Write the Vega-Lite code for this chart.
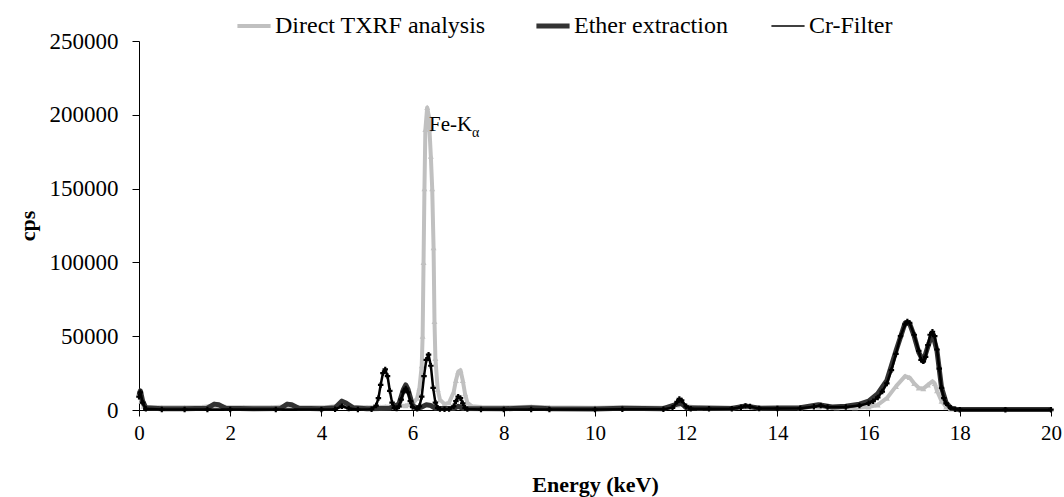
{
  "$schema": "https://vega.github.io/schema/vega-lite/v6.json",
  "autosize": {"type": "none"},
  "width": 912,
  "height": 369,
  "padding": {"left": 139, "top": 41, "right": 13, "bottom": 87},
  "background": "white",
  "config": {
    "view": {"stroke": null},
    "font": "Times New Roman, Liberation Serif, serif",
    "text": {"font": "Times New Roman, Liberation Serif, serif"},
    "legend": {"labelFont": "Times New Roman, Liberation Serif, serif", "titleFont": "Times New Roman, Liberation Serif, serif"},
    "axis": {"grid": false, "domainColor": "black", "tickColor": "black", "labelColor": "black", "titleColor": "black", "labelFont": "Times New Roman, Liberation Serif, serif", "titleFont": "Times New Roman, Liberation Serif, serif", "labelFontSize": 23, "titleFontSize": 22, "titleFontWeight": "bold", "domainWidth": 1, "tickWidth": 1}
  },
  "datasets": {
    "direct": [
      {"E": 0.0, "cps": 10000}, {"E": 0.05, "cps": 6000}, {"E": 0.1, "cps": 2500}, {"E": 0.2, "cps": 1800},
      {"E": 0.5, "cps": 1800}, {"E": 1.0, "cps": 1800}, {"E": 1.4, "cps": 2000}, {"E": 1.65, "cps": 3000},
      {"E": 1.75, "cps": 2800}, {"E": 1.9, "cps": 2000}, {"E": 2.3, "cps": 1800}, {"E": 2.9, "cps": 1800},
      {"E": 3.3, "cps": 2500}, {"E": 3.5, "cps": 1900}, {"E": 4.1, "cps": 1800}, {"E": 4.45, "cps": 3000},
      {"E": 4.7, "cps": 2000}, {"E": 5.0, "cps": 1800}, {"E": 5.3, "cps": 2000}, {"E": 5.4, "cps": 2200},
      {"E": 5.6, "cps": 2200}, {"E": 5.85, "cps": 3000}, {"E": 6.0, "cps": 4000}, {"E": 6.1, "cps": 8000},
      {"E": 6.15, "cps": 15000}, {"E": 6.2, "cps": 30000}, {"E": 6.22, "cps": 50000}, {"E": 6.24, "cps": 100000},
      {"E": 6.26, "cps": 150000}, {"E": 6.28, "cps": 190000}, {"E": 6.32, "cps": 205000}, {"E": 6.35, "cps": 200000},
      {"E": 6.37, "cps": 190000}, {"E": 6.4, "cps": 172000}, {"E": 6.43, "cps": 150000}, {"E": 6.46, "cps": 110000},
      {"E": 6.48, "cps": 60000}, {"E": 6.5, "cps": 35000}, {"E": 6.55, "cps": 14000}, {"E": 6.6, "cps": 7000},
      {"E": 6.7, "cps": 4000}, {"E": 6.8, "cps": 5000}, {"E": 6.9, "cps": 12000}, {"E": 6.95, "cps": 20000},
      {"E": 7.0, "cps": 26000}, {"E": 7.05, "cps": 27000}, {"E": 7.1, "cps": 20000}, {"E": 7.15, "cps": 11000},
      {"E": 7.2, "cps": 5000}, {"E": 7.3, "cps": 2500}, {"E": 7.5, "cps": 2000}, {"E": 8.0, "cps": 1800},
      {"E": 8.6, "cps": 2200}, {"E": 9.0, "cps": 1800}, {"E": 10.0, "cps": 1500}, {"E": 10.6, "cps": 1800},
      {"E": 11.5, "cps": 1500}, {"E": 11.8, "cps": 3500}, {"E": 11.9, "cps": 4000}, {"E": 12.0, "cps": 2500},
      {"E": 12.3, "cps": 1500}, {"E": 13.0, "cps": 1500}, {"E": 13.3, "cps": 2000}, {"E": 13.6, "cps": 1500},
      {"E": 14.5, "cps": 1500}, {"E": 14.9, "cps": 2000}, {"E": 15.3, "cps": 1500}, {"E": 15.7, "cps": 1500},
      {"E": 16.0, "cps": 2000}, {"E": 16.2, "cps": 3500}, {"E": 16.4, "cps": 8000}, {"E": 16.6, "cps": 16000},
      {"E": 16.8, "cps": 23000}, {"E": 16.9, "cps": 22000}, {"E": 17.0, "cps": 18000}, {"E": 17.1, "cps": 15000},
      {"E": 17.2, "cps": 14500}, {"E": 17.3, "cps": 17000}, {"E": 17.4, "cps": 19500}, {"E": 17.45, "cps": 18000},
      {"E": 17.5, "cps": 13000}, {"E": 17.6, "cps": 6000}, {"E": 17.7, "cps": 2000}, {"E": 17.8, "cps": 800},
      {"E": 18.0, "cps": 500}, {"E": 19.0, "cps": 400}, {"E": 20.0, "cps": 400}
    ],
    "ether": [
      {"E": 0.0, "cps": 10000}, {"E": 0.03, "cps": 13000}, {"E": 0.08, "cps": 6000}, {"E": 0.15, "cps": 1500},
      {"E": 0.5, "cps": 800}, {"E": 1.0, "cps": 900}, {"E": 1.5, "cps": 1200}, {"E": 1.65, "cps": 4000},
      {"E": 1.75, "cps": 3500}, {"E": 1.9, "cps": 1200}, {"E": 2.5, "cps": 800}, {"E": 3.1, "cps": 1000},
      {"E": 3.25, "cps": 4000}, {"E": 3.35, "cps": 3500}, {"E": 3.5, "cps": 1200}, {"E": 4.0, "cps": 900},
      {"E": 4.3, "cps": 1500}, {"E": 4.45, "cps": 6000}, {"E": 4.55, "cps": 4500}, {"E": 4.7, "cps": 1500},
      {"E": 5.0, "cps": 900}, {"E": 5.3, "cps": 1000}, {"E": 5.5, "cps": 1200}, {"E": 5.7, "cps": 4000},
      {"E": 5.8, "cps": 14000}, {"E": 5.85, "cps": 17000}, {"E": 5.9, "cps": 14000}, {"E": 6.0, "cps": 3000},
      {"E": 6.1, "cps": 1200}, {"E": 6.2, "cps": 2000}, {"E": 6.3, "cps": 3500}, {"E": 6.4, "cps": 3000},
      {"E": 6.5, "cps": 1200}, {"E": 6.9, "cps": 1000}, {"E": 7.0, "cps": 2500}, {"E": 7.1, "cps": 1000},
      {"E": 8.0, "cps": 800}, {"E": 8.6, "cps": 1500}, {"E": 9.0, "cps": 800}, {"E": 10.0, "cps": 700},
      {"E": 10.6, "cps": 1200}, {"E": 11.5, "cps": 900}, {"E": 11.8, "cps": 4000}, {"E": 11.9, "cps": 4500},
      {"E": 12.0, "cps": 1500}, {"E": 13.0, "cps": 1000}, {"E": 13.3, "cps": 2800}, {"E": 13.6, "cps": 1200},
      {"E": 14.5, "cps": 1500}, {"E": 14.9, "cps": 3500}, {"E": 15.2, "cps": 2000}, {"E": 15.5, "cps": 2500},
      {"E": 15.8, "cps": 4000}, {"E": 16.0, "cps": 6000}, {"E": 16.2, "cps": 11000}, {"E": 16.4, "cps": 20000},
      {"E": 16.6, "cps": 40000}, {"E": 16.8, "cps": 59000}, {"E": 16.9, "cps": 58500}, {"E": 17.0, "cps": 50000},
      {"E": 17.1, "cps": 39000}, {"E": 17.2, "cps": 33000}, {"E": 17.3, "cps": 43000}, {"E": 17.4, "cps": 52000},
      {"E": 17.5, "cps": 40000}, {"E": 17.6, "cps": 15000}, {"E": 17.7, "cps": 5000}, {"E": 17.8, "cps": 1500},
      {"E": 17.9, "cps": 600}, {"E": 18.0, "cps": 300}, {"E": 19.0, "cps": 300}, {"E": 20.0, "cps": 300}
    ],
    "crfilter": [
      {"E": 0.0, "cps": 9000}, {"E": 0.03, "cps": 12000}, {"E": 0.08, "cps": 5000}, {"E": 0.15, "cps": 800},
      {"E": 0.5, "cps": 300}, {"E": 1.0, "cps": 300}, {"E": 1.5, "cps": 300}, {"E": 2.0, "cps": 300},
      {"E": 3.0, "cps": 300}, {"E": 4.0, "cps": 300}, {"E": 4.3, "cps": 500}, {"E": 4.45, "cps": 2500},
      {"E": 4.6, "cps": 1000}, {"E": 4.8, "cps": 300}, {"E": 5.1, "cps": 500}, {"E": 5.2, "cps": 3000},
      {"E": 5.25, "cps": 8000}, {"E": 5.3, "cps": 17000}, {"E": 5.35, "cps": 25000}, {"E": 5.4, "cps": 27500},
      {"E": 5.45, "cps": 23000}, {"E": 5.5, "cps": 13000}, {"E": 5.55, "cps": 5000}, {"E": 5.6, "cps": 1500},
      {"E": 5.65, "cps": 1000}, {"E": 5.7, "cps": 2500}, {"E": 5.75, "cps": 7000}, {"E": 5.8, "cps": 12500},
      {"E": 5.85, "cps": 14500}, {"E": 5.9, "cps": 12000}, {"E": 5.95, "cps": 6000}, {"E": 6.0, "cps": 2000},
      {"E": 6.1, "cps": 800}, {"E": 6.15, "cps": 2500}, {"E": 6.2, "cps": 9000}, {"E": 6.25, "cps": 23000},
      {"E": 6.3, "cps": 34000}, {"E": 6.35, "cps": 37500}, {"E": 6.4, "cps": 30000}, {"E": 6.45, "cps": 15000},
      {"E": 6.5, "cps": 5000}, {"E": 6.55, "cps": 1500}, {"E": 6.6, "cps": 600}, {"E": 6.7, "cps": 500},
      {"E": 6.8, "cps": 600}, {"E": 6.9, "cps": 2500}, {"E": 6.95, "cps": 6000}, {"E": 7.0, "cps": 9000},
      {"E": 7.05, "cps": 8000}, {"E": 7.1, "cps": 4500}, {"E": 7.15, "cps": 1500}, {"E": 7.2, "cps": 600},
      {"E": 7.5, "cps": 300}, {"E": 8.0, "cps": 300}, {"E": 8.6, "cps": 400}, {"E": 9.0, "cps": 300},
      {"E": 10.0, "cps": 300}, {"E": 10.6, "cps": 500}, {"E": 11.5, "cps": 500}, {"E": 11.7, "cps": 1500},
      {"E": 11.8, "cps": 5500}, {"E": 11.85, "cps": 7500}, {"E": 11.9, "cps": 6500}, {"E": 12.0, "cps": 2500},
      {"E": 12.1, "cps": 900}, {"E": 12.5, "cps": 800}, {"E": 13.0, "cps": 900}, {"E": 13.2, "cps": 1800},
      {"E": 13.3, "cps": 2800}, {"E": 13.4, "cps": 2300}, {"E": 13.6, "cps": 1000}, {"E": 14.0, "cps": 1000},
      {"E": 14.5, "cps": 1200}, {"E": 14.8, "cps": 2200}, {"E": 14.95, "cps": 3000}, {"E": 15.1, "cps": 2000},
      {"E": 15.5, "cps": 2000}, {"E": 15.8, "cps": 3000}, {"E": 16.0, "cps": 4500}, {"E": 16.1, "cps": 6000},
      {"E": 16.2, "cps": 8500}, {"E": 16.3, "cps": 12500}, {"E": 16.4, "cps": 18000}, {"E": 16.5, "cps": 27000},
      {"E": 16.6, "cps": 38000}, {"E": 16.7, "cps": 50000}, {"E": 16.8, "cps": 58000}, {"E": 16.85, "cps": 60000},
      {"E": 16.9, "cps": 59000}, {"E": 17.0, "cps": 51000}, {"E": 17.1, "cps": 40000}, {"E": 17.15, "cps": 34000},
      {"E": 17.2, "cps": 33000}, {"E": 17.25, "cps": 36000}, {"E": 17.3, "cps": 44000}, {"E": 17.35, "cps": 51000},
      {"E": 17.4, "cps": 53000}, {"E": 17.45, "cps": 50000}, {"E": 17.5, "cps": 41000}, {"E": 17.55, "cps": 28000},
      {"E": 17.6, "cps": 15000}, {"E": 17.65, "cps": 8000}, {"E": 17.7, "cps": 4500}, {"E": 17.8, "cps": 1500},
      {"E": 17.9, "cps": 500}, {"E": 18.0, "cps": 200}, {"E": 19.0, "cps": 200}, {"E": 20.0, "cps": 200}
    ],
    "label": [{"E": 6.36, "cps": 193400}]
  },
  "encoding": {
    "x": {"field": "E", "type": "quantitative", "scale": {"domain": [0, 20], "nice": false, "zero": false},
      "axis": {"title": "Energy (keV)", "values": [0, 2, 4, 6, 8, 10, 12, 14, 16, 18, 20], "tickSize": 6, "labelPadding": 6, "labelFontSize": 21, "titlePadding": 31, "labelFlush": false}},
    "y": {"field": "cps", "type": "quantitative", "scale": {"domain": [0, 250000], "nice": false},
      "axis": {"title": "cps", "values": [0, 50000, 100000, 150000, 200000, 250000], "format": "d", "tickSize": 7, "labelPadding": 14, "titlePadding": 10}}
  },
  "layer": [
    {
      "data": {"name": "direct"},
      "mark": {"type": "line", "strokeWidth": 4, "strokeJoin": "round"},
      "encoding": {
        "color": {"datum": "Direct TXRF analysis", "type": "nominal",
          "scale": {"domain": ["Direct TXRF analysis", "Ether extraction", "Cr-Filter"], "range": ["#c0c0c0", "#333333", "#000000"]},
          "legend": {"title": null, "orient": "none", "legendX": 103, "legendY": -27, "direction": "horizontal",
            "symbolType": "stroke", "symbolSize": 1100, "symbolStrokeWidth": 4, "labelOffset": 9, "columnPadding": 40,
            "labelFont": "Times New Roman, Liberation Serif, serif", "labelFontSize": 24, "labelColor": "black", "labelLimit": 300,
            "encode": {"symbols": {"update": {"strokeWidth": {"signal": "datum.value === 'Ether extraction' ? 5 : datum.value === 'Cr-Filter' ? 1.5 : 4"}}}}}
        }
      }
    },
    {
      "data": {"name": "direct"},
      "mark": {"type": "point", "shape": "triangle-up", "filled": true, "size": 35, "color": "#c0c0c0", "opacity": 1},
      "encoding": {}
    },
    {
      "data": {"name": "ether"},
      "mark": {"type": "line", "strokeWidth": 5, "strokeJoin": "round"},
      "encoding": {"color": {"datum": "Ether extraction", "type": "nominal"}}
    },
    {
      "data": {"name": "crfilter"},
      "mark": {"type": "line", "strokeWidth": 2.5, "strokeJoin": "round"},
      "encoding": {"color": {"datum": "Cr-Filter", "type": "nominal"}}
    },
    {
      "data": {"name": "crfilter"},
      "mark": {"type": "point", "shape": "cross", "filled": true, "size": 30, "color": "#000000", "opacity": 1},
      "encoding": {}
    },
    {
      "data": {"name": "label"},
      "mark": {"type": "text", "text": "Fe-K", "align": "left", "baseline": "middle", "fontSize": 21, "color": "black"},
      "encoding": {}
    },
    {
      "data": {"name": "label"},
      "mark": {"type": "text", "text": "α", "align": "left", "baseline": "middle", "dx": 43, "dy": 8, "fontSize": 14, "color": "black"},
      "encoding": {}
    }
  ]
}
